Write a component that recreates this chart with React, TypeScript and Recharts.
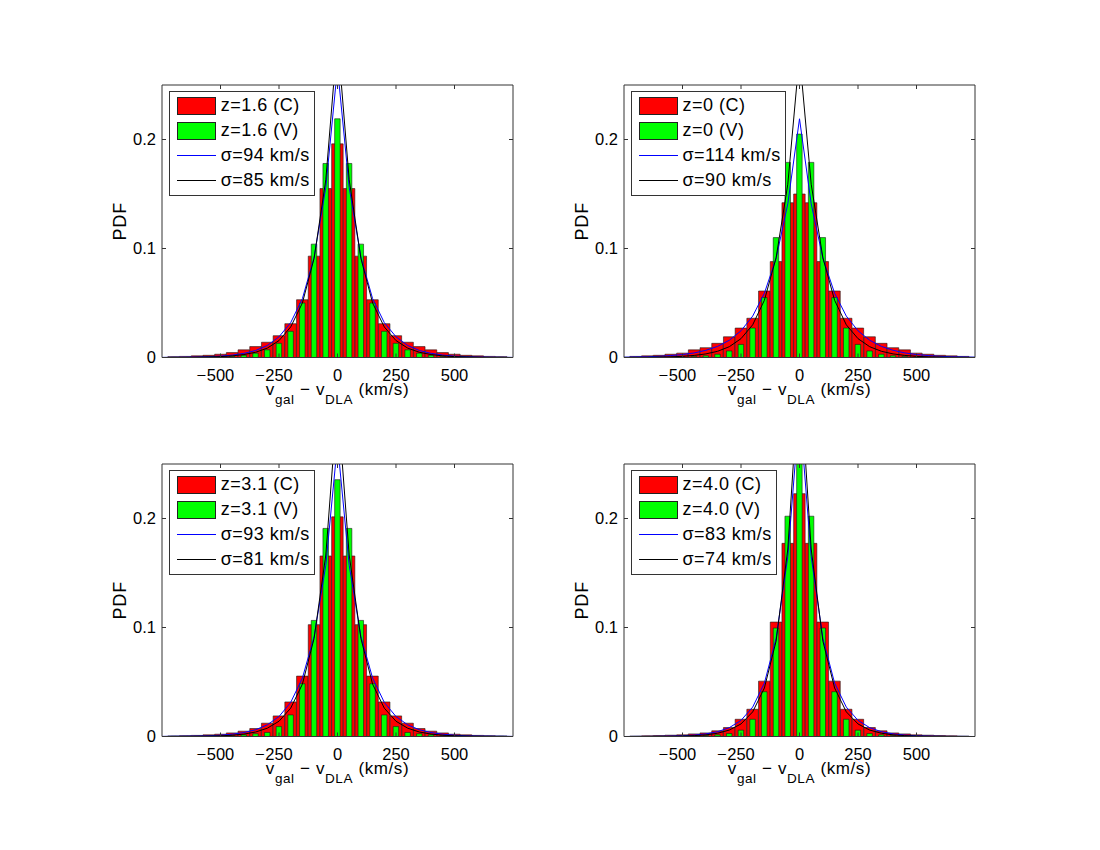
import React from "react";
import { Bar, ComposedChart, Legend, Line, XAxis, YAxis } from "recharts";

// histogram bin centres (km/s), 50 km/s bins
const binV = [
  -700, -650, -600, -550, -500, -450, -400, -350, -300, -250, -200, -150, -100, -50, 0,
  50, 100, 150, 200, 250, 300, 350, 400, 450, 500, 550, 600, 650, 700,
];
// velocities where the fit curves are drawn
const fitV = [
  -750, -700, -650, -600, -550, -500, -450, -400, -350, -300, -250, -200, -150, -100, -50, 0,
  50, 100, 150, 200, 250, 300, 350, 400, 450, 500, 550, 600, 650, 700, 750,
];
const xTicks = [-500, -250, 0, 250, 500];
const yTicks = [0, 0.1, 0.2];

// z = 1.6
const redZ16 = [
  0.0008, 0.001, 0.0015, 0.002, 0.003, 0.0045, 0.007, 0.01, 0.014, 0.02, 0.031, 0.053, 0.093, 0.155, 0.196,
  0.155, 0.093, 0.053, 0.031, 0.02, 0.014, 0.01, 0.007, 0.0045, 0.003, 0.002, 0.0015, 0.001, 0.0008,
];
const greenZ16 = [
  0.0001, 0.0001, 0.0002, 0.0004, 0.0006, 0.001, 0.002, 0.004, 0.007, 0.013, 0.024, 0.05, 0.104, 0.178, 0.219,
  0.178, 0.104, 0.05, 0.024, 0.013, 0.007, 0.004, 0.002, 0.001, 0.0006, 0.0004, 0.0002, 0.0001, 0.0001,
];
const fit94 = [
  0.0001, 0.0002, 0.0003, 0.0005, 0.0008, 0.0013, 0.0022, 0.0038, 0.0064, 0.011, 0.019, 0.032, 0.054, 0.092, 0.156, 0.266,
  0.156, 0.092, 0.054, 0.032, 0.019, 0.011, 0.0064, 0.0038, 0.0022, 0.0013, 0.0008, 0.0005, 0.0003, 0.0002, 0.0001,
];
const fit85 = [
  0, 0.0001, 0.0001, 0.0003, 0.0005, 0.0008, 0.0015, 0.0027, 0.0048, 0.0086, 0.0155, 0.028, 0.05, 0.091, 0.163, 0.294,
  0.163, 0.091, 0.05, 0.028, 0.0155, 0.0086, 0.0048, 0.0027, 0.0015, 0.0008, 0.0005, 0.0003, 0.0001, 0.0001, 0,
];

// z = 0
const redZ0 = [
  0.001, 0.0015, 0.002, 0.003, 0.004, 0.007, 0.009, 0.013, 0.019, 0.027, 0.036, 0.061, 0.088, 0.142, 0.15,
  0.142, 0.088, 0.061, 0.036, 0.027, 0.019, 0.013, 0.009, 0.007, 0.004, 0.003, 0.002, 0.0015, 0.001,
];
const greenZ0 = [
  0.0001, 0.0001, 0.0002, 0.0003, 0.0005, 0.001, 0.0015, 0.003, 0.006, 0.012, 0.027, 0.055, 0.11, 0.179, 0.205,
  0.179, 0.11, 0.055, 0.027, 0.012, 0.006, 0.003, 0.0015, 0.001, 0.0005, 0.0003, 0.0002, 0.0001, 0.0001,
];
const fit114 = [
  0.0003, 0.0005, 0.0007, 0.0011, 0.0018, 0.0027, 0.0042, 0.0066, 0.0102, 0.0158, 0.0245, 0.038, 0.059, 0.091, 0.141, 0.219,
  0.141, 0.091, 0.059, 0.038, 0.0245, 0.0158, 0.0102, 0.0066, 0.0042, 0.0027, 0.0018, 0.0011, 0.0007, 0.0005, 0.0003,
];
const fit90 = [
  0.0001, 0.0001, 0.0002, 0.0004, 0.0006, 0.0011, 0.0019, 0.0033, 0.0057, 0.0099, 0.0173, 0.03, 0.0525, 0.0915, 0.159, 0.278,
  0.159, 0.0915, 0.0525, 0.03, 0.0173, 0.0099, 0.0057, 0.0033, 0.0019, 0.0011, 0.0006, 0.0004, 0.0002, 0.0001, 0.0001,
];

// z = 3.1
const redZ31 = [
  0.0005, 0.0008, 0.001, 0.0015, 0.0021, 0.0033, 0.0049, 0.0073, 0.0122, 0.0189, 0.0317, 0.0554, 0.1026, 0.1656, 0.2015,
  0.1656, 0.1026, 0.0554, 0.0317, 0.0189, 0.0122, 0.0073, 0.0049, 0.0033, 0.0021, 0.0015, 0.001, 0.0008, 0.0005,
];
const greenZ31 = [
  0.0001, 0.0001, 0.0002, 0.0003, 0.0005, 0.0008, 0.0015, 0.0025, 0.0037, 0.0091, 0.0198, 0.0484, 0.1065, 0.1909, 0.2356,
  0.1909, 0.1065, 0.0484, 0.0198, 0.0091, 0.0037, 0.0025, 0.0015, 0.0008, 0.0005, 0.0003, 0.0002, 0.0001, 0.0001,
];
const fit93 = [
  0.0001, 0.0002, 0.0003, 0.0004, 0.0007, 0.0012, 0.0021, 0.0036, 0.0062, 0.0107, 0.0183, 0.0313, 0.0536, 0.0917, 0.157, 0.269,
  0.157, 0.0917, 0.0536, 0.0313, 0.0183, 0.0107, 0.0062, 0.0036, 0.0021, 0.0012, 0.0007, 0.0004, 0.0003, 0.0002, 0.0001,
];
const fit81 = [
  0, 0.0001, 0.0001, 0.0002, 0.0004, 0.0006, 0.0012, 0.0022, 0.0041, 0.0076, 0.014, 0.026, 0.048, 0.09, 0.1665, 0.309,
  0.1665, 0.09, 0.048, 0.026, 0.014, 0.0076, 0.0041, 0.0022, 0.0012, 0.0006, 0.0004, 0.0002, 0.0001, 0.0001, 0,
];

// z = 4.0
const redZ40 = [
  0.0004, 0.0006, 0.0009, 0.0012, 0.0015, 0.0024, 0.0033, 0.0052, 0.0082, 0.0158, 0.025, 0.0508, 0.105, 0.1772, 0.2228,
  0.1772, 0.105, 0.0508, 0.025, 0.0158, 0.0082, 0.0052, 0.0033, 0.0024, 0.0015, 0.0012, 0.0009, 0.0006, 0.0004,
];
const greenZ40 = [
  0, 0.0001, 0.0001, 0.0002, 0.0003, 0.0005, 0.0009, 0.0015, 0.0027, 0.0058, 0.0158, 0.0411, 0.0995, 0.2021, 0.262,
  0.2021, 0.0995, 0.0411, 0.0158, 0.0058, 0.0027, 0.0015, 0.0009, 0.0005, 0.0003, 0.0002, 0.0001, 0.0001, 0,
];
const fit83 = [
  0, 0.0001, 0.0001, 0.0002, 0.0004, 0.0007, 0.0013, 0.0024, 0.0044, 0.0081, 0.0148, 0.027, 0.049, 0.09, 0.165, 0.301,
  0.165, 0.09, 0.049, 0.027, 0.0148, 0.0081, 0.0044, 0.0024, 0.0013, 0.0007, 0.0004, 0.0002, 0.0001, 0.0001, 0,
];
const fit74 = [
  0, 0, 0.0001, 0.0001, 0.0002, 0.0004, 0.0008, 0.0015, 0.003, 0.0059, 0.0115, 0.0226, 0.0445, 0.0875, 0.172, 0.338,
  0.172, 0.0875, 0.0445, 0.0226, 0.0115, 0.0059, 0.003, 0.0015, 0.0008, 0.0004, 0.0002, 0.0001, 0.0001, 0, 0,
];

const panels = [
  { z: "1.6", sBlue: 94, sBlack: 85, red: redZ16, green: greenZ16, blue: fit94, black: fit85, left: 161.7, top: 85 },
  { z: "0", sBlue: 114, sBlack: 90, red: redZ0, green: greenZ0, blue: fit114, black: fit90, left: 623.5, top: 85 },
  { z: "3.1", sBlue: 93, sBlack: 81, red: redZ31, green: greenZ31, blue: fit93, black: fit81, left: 161.7, top: 464 },
  { z: "4.0", sBlue: 83, sBlack: 74, red: redZ40, green: greenZ40, blue: fit83, black: fit74, left: 623.5, top: 464 },
];

const FONT = "'Liberation Sans', Arial, Helvetica, sans-serif";
const AXIS = "#333";
const PLOT_W = 351;
const PLOT_H = 272.5;
const AX_L = 70;
const AX_R = 10;
const AX_T = 10;
const AX_B = 60;
const OFF = 8; // tickSize + tickMargin
const TICK_FS = 16.5;
// one 50 km/s bin in pixels; recharts' band on this axis is the same, so stay just under it
const BIN_PX = (PLOT_W * 50) / 1500;
const RED_W = BIN_PX - 0.2;
const GREEN_W = BIN_PX - 6.2;

const buildRows = (red: number[], green: number[], blue: number[], black: number[]) =>
  fitV.map((v, i) => {
    const b = binV.indexOf(v);
    return {
      v,
      red: b >= 0 ? red[b] : undefined,
      green: b >= 0 ? green[b] : undefined,
      blue: blue[i],
      black: black[i],
    };
  });

const BottomTick = (props: any) => {
  const { x, y, payload } = props;
  const base = y - OFF;
  const val = payload.value as number;
  const digits = String(Math.abs(val));
  const half = digits.length * 0.556 * TICK_FS * 0.5;
  return (
    <g>
      <line x1={x} x2={x} y1={base} y2={base - 4} stroke={AXIS} />
      <text x={x} y={base + 23} textAnchor="middle" fontFamily={FONT} fontSize={TICK_FS} fill="#000">
        {digits}
      </text>
      {val < 0 && (
        <text x={x - half - 0.5} y={base + 23} textAnchor="end" fontFamily={FONT} fontSize={TICK_FS} fill="#000">
          {"\u2212"}
        </text>
      )}
    </g>
  );
};

const TopTick = (props: any) => {
  const edge = props.y + OFF;
  return <line x1={props.x} x2={props.x} y1={edge} y2={edge + 4} stroke={AXIS} />;
};

const LeftTick = (props: any) => {
  const { x, y, payload } = props;
  const edge = x + OFF;
  return (
    <g>
      <line x1={edge} x2={edge + 4} y1={y} y2={y} stroke={AXIS} />
      <text x={edge - 6} y={y} dy="0.36em" textAnchor="end" fontFamily={FONT} fontSize={TICK_FS} fill="#000">
        {String(payload.value)}
      </text>
    </g>
  );
};

const RightTick = (props: any) => {
  const edge = props.x - OFF;
  return <line x1={edge} x2={edge - 4} y1={props.y} y2={props.y} stroke={AXIS} />;
};

const XLabel = () => (
  <text
    x={AX_L + PLOT_W / 2}
    y={AX_T + PLOT_H + 37.5}
    textAnchor="middle"
    fontFamily={FONT}
    fontSize={17}
    letterSpacing={0.6}
    fill="#000"
  >
    v<tspan fontSize={13.5} dy={9}>gal</tspan>
    <tspan dy={-9}>{" \u2212 v"}</tspan>
    <tspan fontSize={13.5} dy={9}>DLA</tspan>
    <tspan dy={-9}>{" (km/s)"}</tspan>
  </text>
);

const YLabel = () => (
  <text
    transform={`translate(${AX_L - 42}, ${AX_T + PLOT_H / 2}) rotate(-90)`}
    textAnchor="middle"
    dominantBaseline="central"
    fontFamily={FONT}
    fontSize={18}
    letterSpacing={0.8}
    fill="#000"
  >
    PDF
  </text>
);

const LegendBox = ({ p }: { p: (typeof panels)[number] }) => {
  const row: React.CSSProperties = { display: "flex", alignItems: "center", height: 25 };
  const patch = (bg: string): React.CSSProperties => ({
    width: 37,
    height: 16,
    background: bg,
    border: "1px solid #222",
    marginRight: 5,
    flexShrink: 0,
  });
  const sample = (c: string) => (
    <svg width={39} height={3} style={{ marginRight: 5, flexShrink: 0, display: "block" }}>
      <line x1={0} x2={39} y1={1.5} y2={1.5} stroke={c} strokeWidth={1.2} shapeRendering="crispEdges" />
    </svg>
  );
  return (
    <div
      style={{
        border: `1px solid ${AXIS}`,
        background: "#fff",
        padding: "1px 4px 2px 7px",
        fontFamily: FONT,
        fontSize: 18,
        letterSpacing: 0.5,
        color: "#000",
        whiteSpace: "nowrap",
        lineHeight: "normal",
      }}
    >
      <div style={row}>
        <span style={patch("#ff0000")} />
        <span>{`z=${p.z} (C)`}</span>
      </div>
      <div style={row}>
        <span style={patch("#00ff00")} />
        <span>{`z=${p.z} (V)`}</span>
      </div>
      <div style={row}>
        {sample("#0000ff")}
        <span>{`\u03c3=${p.sBlue} km/s`}</span>
      </div>
      <div style={row}>
        {sample("#000000")}
        <span>{`\u03c3=${p.sBlack} km/s`}</span>
      </div>
    </div>
  );
};

const Panel = ({ p }: { p: (typeof panels)[number] }) => {
  const rows = buildRows(p.red, p.green, p.blue, p.black);
  return (
    <div style={{ position: "absolute", left: p.left - AX_L, top: p.top - AX_T }}>
      <ComposedChart
        width={AX_L + PLOT_W + AX_R}
        height={AX_T + PLOT_H + AX_B}
        data={rows}
        margin={{ top: 0, right: 0, bottom: 0, left: 0 }}
      >
        <Bar
          xAxisId="b"
          yAxisId="l"
          dataKey="red"
          barSize={RED_W}
          fill="#ff0000"
          stroke="#1a1a1a"
          strokeWidth={0.6}
          isAnimationActive={false}
        />
        <Bar
          xAxisId="t"
          yAxisId="l"
          dataKey="green"
          barSize={GREEN_W}
          fill="#00ff00"
          stroke="#1a1a1a"
          strokeWidth={0.6}
          isAnimationActive={false}
        />
        <Line
          xAxisId="b"
          yAxisId="l"
          dataKey="blue"
          type="linear"
          stroke="#0000ff"
          strokeWidth={1}
          dot={false}
          activeDot={false}
          isAnimationActive={false}
        />
        <Line
          xAxisId="b"
          yAxisId="r"
          dataKey="black"
          type="linear"
          stroke="#000000"
          strokeWidth={1}
          dot={false}
          activeDot={false}
          isAnimationActive={false}
        />
        <XAxis
          xAxisId="b"
          type="number"
          dataKey="v"
          domain={[-750, 750]}
          allowDataOverflow
          ticks={xTicks}
          interval={0}
          height={AX_B}
          tickLine={false}
          tickSize={6}
          tickMargin={2}
          tick={BottomTick}
          axisLine={{ stroke: AXIS }}
          label={<XLabel />}
        />
        <XAxis
          xAxisId="t"
          orientation="top"
          type="number"
          dataKey="v"
          domain={[-750, 750]}
          allowDataOverflow
          ticks={xTicks}
          interval={0}
          height={AX_T}
          tickLine={false}
          tickSize={6}
          tickMargin={2}
          tick={TopTick}
          axisLine={{ stroke: AXIS }}
        />
        <YAxis
          yAxisId="l"
          type="number"
          domain={[0, 0.25]}
          allowDataOverflow
          ticks={yTicks}
          interval={0}
          width={AX_L}
          tickLine={false}
          tickSize={6}
          tickMargin={2}
          tick={LeftTick}
          axisLine={{ stroke: AXIS }}
          label={<YLabel />}
        />
        <YAxis
          yAxisId="r"
          orientation="right"
          type="number"
          domain={[0, 0.25]}
          allowDataOverflow
          ticks={yTicks}
          interval={0}
          width={AX_R}
          tickLine={false}
          tickSize={6}
          tickMargin={2}
          tick={RightTick}
          axisLine={{ stroke: AXIS }}
        />
        <Legend
          layout="vertical"
          align="center"
          verticalAlign="middle"
          wrapperStyle={{ left: 77, top: 16 }}
          content={() => <LegendBox p={p} />}
        />
      </ComposedChart>
    </div>
  );
};

export default function App() {
  return (
    <div style={{ position: "absolute", left: 0, top: 0, width: 1100, height: 850, background: "#fff" }}>
      {panels.map((p) => (
        <Panel key={p.z} p={p} />
      ))}
    </div>
  );
}
